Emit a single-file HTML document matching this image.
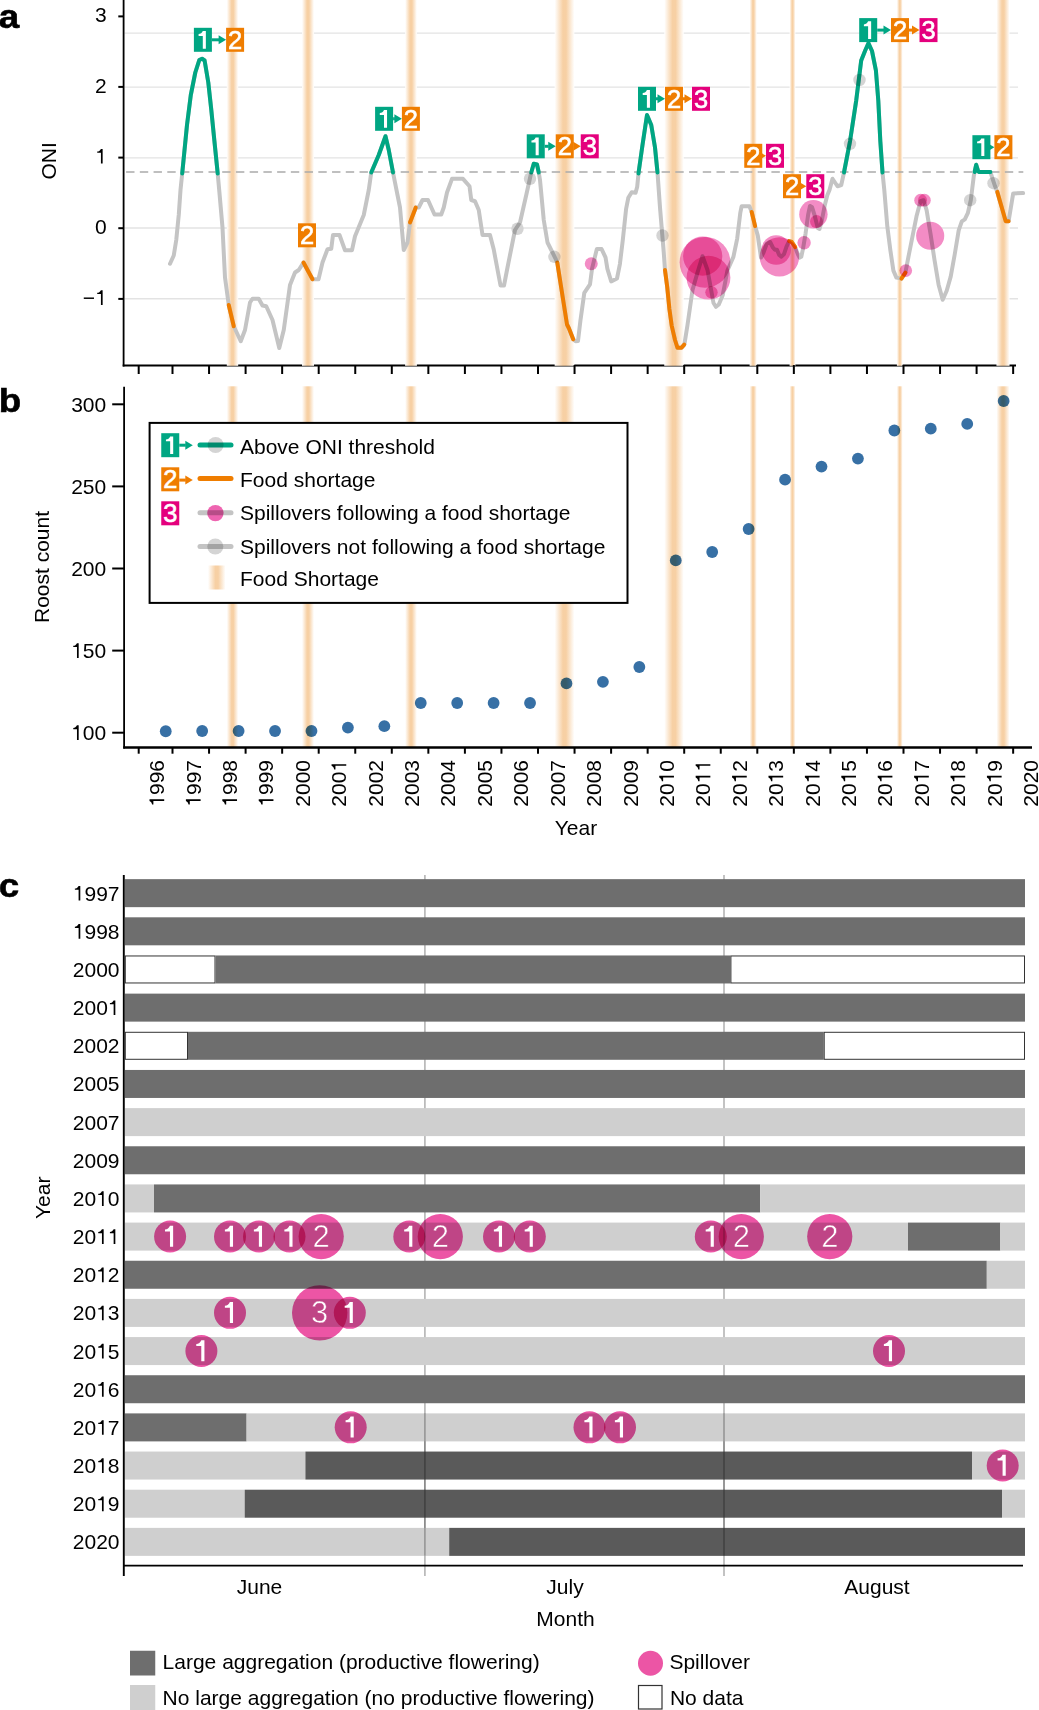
<!DOCTYPE html><html><head><meta charset="utf-8"><style>html,body{margin:0;padding:0;background:#fff;}svg{display:block;}</style></head><body><svg width="1039" height="1710" viewBox="0 0 1039 1710" font-family="Liberation Sans, sans-serif">
<defs><linearGradient id="bg" x1="0" x2="1" y1="0" y2="0"><stop offset="0" stop-color="#fff"/><stop offset="0.42" stop-color="#f7d0a4"/><stop offset="0.58" stop-color="#f7d0a4"/><stop offset="1" stop-color="#fff"/></linearGradient></defs>
<rect width="1039" height="1710" fill="#fff"/>
<line x1="124.5" x2="1018" y1="33.2" y2="33.2" stroke="#e3e3e3" stroke-width="1.3"/>
<line x1="124.5" x2="1018" y1="87.2" y2="87.2" stroke="#e3e3e3" stroke-width="1.3"/>
<line x1="124.5" x2="1018" y1="157.8" y2="157.8" stroke="#e3e3e3" stroke-width="1.3"/>
<line x1="124.5" x2="1018" y1="228" y2="228" stroke="#e3e3e3" stroke-width="1.3"/>
<line x1="124.5" x2="1018" y1="298.75" y2="298.75" stroke="#e3e3e3" stroke-width="1.3"/>
<line x1="122.7" x2="1016" y1="365.4" y2="365.4" stroke="#000" stroke-width="2"/>
<circle cx="591.25" cy="263.75" r="6.5" fill="#fff"/>
<circle cx="702.7" cy="256.2" r="19.6" fill="#fff"/>
<circle cx="705" cy="262.3" r="25.4" fill="#fff"/>
<circle cx="708.5" cy="277.7" r="21.9" fill="#fff"/>
<circle cx="711.5" cy="292.3" r="6.2" fill="#fff"/>
<circle cx="776.2" cy="250" r="14.7" fill="#fff"/>
<circle cx="779.4" cy="256.9" r="19.7" fill="#fff"/>
<circle cx="813.4" cy="214.3" r="14.2" fill="#fff"/>
<circle cx="816.5" cy="221.6" r="6.5" fill="#fff"/>
<circle cx="804.1" cy="242.8" r="6.7" fill="#fff"/>
<circle cx="905.8" cy="270.6" r="6.3" fill="#fff"/>
<circle cx="920.6" cy="200.2" r="6.35" fill="#fff"/>
<circle cx="924.4" cy="200.2" r="6.35" fill="#fff"/>
<circle cx="930.2" cy="235.8" r="14.05" fill="#fff"/>
<circle cx="517.5" cy="228.75" r="6.2" fill="#fff"/>
<circle cx="530" cy="178.75" r="6.2" fill="#fff"/>
<circle cx="554.4" cy="256.8" r="6.2" fill="#fff"/>
<circle cx="662.5" cy="235.5" r="6.2" fill="#fff"/>
<circle cx="850" cy="143.8" r="6.2" fill="#fff"/>
<circle cx="859.5" cy="80" r="6.2" fill="#fff"/>
<circle cx="970.2" cy="200.2" r="6.2" fill="#fff"/>
<circle cx="993.5" cy="183.2" r="6.2" fill="#fff"/>
<rect x="226.80" y="0" width="11.40" height="365.8" fill="url(#bg)"/>
<rect x="302.00" y="0" width="12.00" height="365.8" fill="url(#bg)"/>
<rect x="405.10" y="0" width="11.80" height="365.8" fill="url(#bg)"/>
<rect x="554.65" y="0" width="19.70" height="365.8" fill="url(#bg)"/>
<rect x="664.25" y="0" width="19.50" height="365.8" fill="url(#bg)"/>
<rect x="749.60" y="0" width="7.20" height="365.8" fill="url(#bg)"/>
<rect x="789.60" y="0" width="5.80" height="365.8" fill="url(#bg)"/>
<rect x="896.90" y="0" width="5.80" height="365.8" fill="url(#bg)"/>
<rect x="996.45" y="0" width="13.10" height="365.8" fill="url(#bg)"/>
<line x1="126.1" x2="1023.3" y1="172" y2="172" stroke="#aaa" stroke-width="1.7" stroke-dasharray="8.4 5.33"/>
<polyline points="170.00,263.75 173.75,255.50 176.25,240.00 178.75,215.00 180.50,190.00 182.30,172.50 187.00,125.00 190.80,95.00 195.30,72.50 199.30,60.00 202.00,58.70 204.60,60.50 208.30,82.50 211.30,110.00 214.30,140.00 217.60,172.50 219.20,190.00 222.50,227.50 225.00,277.50 228.75,305.00 233.75,326.25 240.75,341.25 245.00,330.00 250.00,302.50 252.50,298.75 258.75,298.75 262.50,305.50 266.25,306.25 272.50,320.00 279.25,348.00 283.75,330.00 290.00,285.00 295.00,272.50 298.75,270.00 303.50,262.50 312.50,279.20 318.50,279.20 322.50,262.50 327.50,249.25 331.25,248.75 333.00,235.00 339.50,235.00 345.00,250.20 352.00,250.20 355.00,236.25 363.75,215.00 368.75,190.00 371.25,172.50 378.75,155.00 385.50,136.25 388.75,150.00 393.00,172.50 397.50,195.00 400.00,207.50 403.75,250.00 407.50,242.50 410.00,222.50 415.75,207.50 418.75,207.50 422.50,200.00 428.00,200.00 434.50,214.50 441.25,214.50 443.75,207.50 447.00,192.50 452.00,178.85 463.00,178.85 469.50,186.25 471.25,200.00 475.00,201.25 478.75,210.00 482.50,235.00 490.00,235.00 493.75,249.50 500.50,285.50 504.00,285.50 507.50,267.50 512.50,242.50 515.00,230.00 520.00,222.50 526.25,195.00 531.25,172.50 533.75,163.75 537.00,164.50 538.75,172.50 540.00,180.00 543.75,220.00 547.50,242.50 555.40,258.30 557.30,262.60 567.00,324.50 569.00,328.50 573.20,339.30 575.60,341.20 578.00,341.00 580.40,320.80 584.30,292.90 590.00,284.30 592.00,268.90 596.80,249.10 601.60,249.10 605.50,257.30 607.40,268.90 611.20,281.40 617.00,278.50 619.90,264.10 622.80,240.00 626.10,208.90 628.30,197.80 631.70,192.20 635.60,192.80 637.20,186.70 638.60,172.50 642.50,145.00 647.00,115.00 651.25,125.00 655.00,147.50 657.50,172.50 660.00,207.50 663.75,252.50 665.00,270.00 667.20,286.70 669.40,308.90 671.70,325.60 675.00,340.00 677.50,347.80 681.50,347.80 684.40,344.40 687.50,325.00 692.50,290.00 697.50,272.50 702.50,256.25 707.50,270.00 713.50,303.00 716.00,306.80 718.80,304.50 722.80,294.90 727.40,270.50 733.40,256.90 737.20,238.60 740.30,212.80 741.60,206.30 749.40,206.30 751.70,212.00 755.10,226.10 757.80,235.60 761.00,257.60 763.20,253.20 766.70,243.70 770.10,242.00 772.70,247.20 774.90,249.80 777.00,249.80 779.20,255.00 781.40,256.70 784.00,254.10 786.60,246.30 789.20,241.10 791.80,242.00 795.20,247.20 797.80,254.10 799.60,257.60 801.30,256.70 803.00,248.90 805.60,233.30 808.20,214.30 810.00,206.00 812.10,207.30 814.30,214.30 817.80,228.10 819.50,229.00 821.70,221.20 824.70,205.60 827.30,195.20 829.50,190.00 832.50,178.75 837.50,186.25 841.25,185.00 844.00,172.50 850.10,140.80 856.20,100.60 861.20,60.40 865.20,50.50 868.40,43.20 872.00,51.00 875.90,70.40 878.30,100.60 880.30,140.80 882.50,172.50 884.30,190.00 887.30,226.30 890.40,250.50 893.40,270.60 896.40,277.60 901.40,278.60 905.40,272.60 908.50,256.50 912.50,236.40 916.50,216.30 920.50,201.20 923.50,200.20 926.60,210.20 930.60,234.40 934.60,260.50 938.60,284.70 942.70,299.80 946.70,290.70 950.70,276.60 954.70,254.50 958.70,230.40 961.80,221.30 964.80,219.30 967.80,213.20 970.80,200.20 973.80,176.00 974.60,172.00 976.20,164.80 978.30,171.50 979.50,172.10 990.40,172.10 995.00,186.10 997.30,191.90 1001.50,206.50 1005.70,221.20 1008.60,221.20 1013.20,193.40 1023.10,193.10" fill="none" stroke="#c4c4c4" stroke-width="4" stroke-linejoin="round" stroke-linecap="round"/>
<polyline points="182.20,173.47 182.30,172.50 187.00,125.00 190.80,95.00 195.30,72.50 199.30,60.00 202.00,58.70 204.60,60.50 208.30,82.50 211.30,110.00 214.30,140.00 217.60,172.50 217.70,173.59" fill="none" stroke="#00a683" stroke-width="4" stroke-linejoin="round" stroke-linecap="round"/>
<polyline points="371.25,172.50 378.75,155.00 385.50,136.25 388.75,150.00 393.00,172.50" fill="none" stroke="#00a683" stroke-width="4" stroke-linejoin="round" stroke-linecap="round"/>
<polyline points="531.25,172.50 533.75,163.75 537.00,164.50 538.75,172.50" fill="none" stroke="#00a683" stroke-width="4" stroke-linejoin="round" stroke-linecap="round"/>
<polyline points="638.50,173.51 638.60,172.50 642.50,145.00 647.00,115.00 651.25,125.00 655.00,147.50 657.50,172.50" fill="none" stroke="#00a683" stroke-width="4" stroke-linejoin="round" stroke-linecap="round"/>
<polyline points="844.00,172.50 850.10,140.80 856.20,100.60 861.20,60.40 865.20,50.50 868.40,43.20 872.00,51.00 875.90,70.40 878.30,100.60 880.30,140.80 882.50,172.50" fill="none" stroke="#00a683" stroke-width="4" stroke-linejoin="round" stroke-linecap="round"/>
<polyline points="974.60,172.00 976.20,164.80 978.30,171.50 979.50,172.10 990.40,172.10" fill="none" stroke="#00a683" stroke-width="4" stroke-linejoin="round" stroke-linecap="round"/>
<polyline points="228.75,305.00 233.75,326.25" fill="none" stroke="#ef7d00" stroke-width="4" stroke-linejoin="round" stroke-linecap="round"/>
<polyline points="303.50,262.50 312.50,279.20" fill="none" stroke="#ef7d00" stroke-width="4" stroke-linejoin="round" stroke-linecap="round"/>
<polyline points="410.00,222.50 415.75,207.50" fill="none" stroke="#ef7d00" stroke-width="4" stroke-linejoin="round" stroke-linecap="round"/>
<polyline points="557.30,262.60 567.00,324.50 569.00,328.50 573.20,339.30" fill="none" stroke="#ef7d00" stroke-width="4" stroke-linejoin="round" stroke-linecap="round"/>
<polyline points="665.00,270.00 667.20,286.70 669.40,308.90 671.70,325.60 675.00,340.00 677.50,347.80 681.50,347.80 684.20,344.63" fill="none" stroke="#ef7d00" stroke-width="4" stroke-linejoin="round" stroke-linecap="round"/>
<polyline points="751.70,212.00 755.10,226.10" fill="none" stroke="#ef7d00" stroke-width="4" stroke-linejoin="round" stroke-linecap="round"/>
<polyline points="789.20,241.10 791.80,242.00 795.20,247.20" fill="none" stroke="#ef7d00" stroke-width="4" stroke-linejoin="round" stroke-linecap="round"/>
<polyline points="901.40,278.60 905.40,272.60" fill="none" stroke="#ef7d00" stroke-width="4" stroke-linejoin="round" stroke-linecap="round"/>
<polyline points="997.30,191.90 1001.50,206.50 1005.70,221.20 1008.60,221.20" fill="none" stroke="#ef7d00" stroke-width="4" stroke-linejoin="round" stroke-linecap="round"/>
<circle cx="517.5" cy="228.75" r="6.2" fill="#d4d4d4" style="mix-blend-mode:multiply"/>
<circle cx="530" cy="178.75" r="6.2" fill="#d4d4d4" style="mix-blend-mode:multiply"/>
<circle cx="554.4" cy="256.8" r="6.2" fill="#d4d4d4" style="mix-blend-mode:multiply"/>
<circle cx="662.5" cy="235.5" r="6.2" fill="#d4d4d4" style="mix-blend-mode:multiply"/>
<circle cx="850" cy="143.8" r="6.2" fill="#d4d4d4" style="mix-blend-mode:multiply"/>
<circle cx="859.5" cy="80" r="6.2" fill="#d4d4d4" style="mix-blend-mode:multiply"/>
<circle cx="970.2" cy="200.2" r="6.2" fill="#d4d4d4" style="mix-blend-mode:multiply"/>
<circle cx="993.5" cy="183.2" r="6.2" fill="#d4d4d4" style="mix-blend-mode:multiply"/>
<circle cx="591.25" cy="263.75" r="6.5" fill="#f38cc5" style="mix-blend-mode:multiply"/>
<circle cx="702.7" cy="256.2" r="19.6" fill="#f38cc5" style="mix-blend-mode:multiply"/>
<circle cx="705" cy="262.3" r="25.4" fill="#f38cc5" style="mix-blend-mode:multiply"/>
<circle cx="708.5" cy="277.7" r="21.9" fill="#f38cc5" style="mix-blend-mode:multiply"/>
<circle cx="711.5" cy="292.3" r="6.2" fill="#f38cc5" style="mix-blend-mode:multiply"/>
<circle cx="776.2" cy="250" r="14.7" fill="#f38cc5" style="mix-blend-mode:multiply"/>
<circle cx="779.4" cy="256.9" r="19.7" fill="#f38cc5" style="mix-blend-mode:multiply"/>
<circle cx="813.4" cy="214.3" r="14.2" fill="#f38cc5" style="mix-blend-mode:multiply"/>
<circle cx="816.5" cy="221.6" r="6.5" fill="#f38cc5" style="mix-blend-mode:multiply"/>
<circle cx="804.1" cy="242.8" r="6.7" fill="#f38cc5" style="mix-blend-mode:multiply"/>
<circle cx="905.8" cy="270.6" r="6.3" fill="#f38cc5" style="mix-blend-mode:multiply"/>
<circle cx="920.6" cy="200.2" r="6.35" fill="#f38cc5" style="mix-blend-mode:multiply"/>
<circle cx="924.4" cy="200.2" r="6.35" fill="#f38cc5" style="mix-blend-mode:multiply"/>
<circle cx="930.2" cy="235.8" r="14.05" fill="#f38cc5" style="mix-blend-mode:multiply"/>
<line x1="211.9" x2="219.1" y1="39.8" y2="39.8" stroke="#00a683" stroke-width="3"/>
<polygon points="218.60,35.30 226.10,39.80 218.60,44.30" fill="#00a683"/>
<rect x="193.90" y="27.80" width="18" height="24" fill="#00a683"/>
<path d="M198.60,34.10 C200.60,34.00 202.00,32.90 202.80,31.00 L205.85,31.00 L205.85,48.65 L202.80,48.65 L202.80,35.90 L198.60,35.90 Z" fill="#fff"/>
<rect x="226.10" y="27.80" width="18" height="24" fill="#ef7d00"/>
<text x="235.10" y="48.90" font-size="25.5" fill="#fff" stroke="#fff" stroke-width="0.55" text-anchor="middle">2</text>
<rect x="298.00" y="223.30" width="18" height="24" fill="#ef7d00"/>
<text x="307.00" y="244.40" font-size="25.5" fill="#fff" stroke="#fff" stroke-width="0.55" text-anchor="middle">2</text>
<line x1="393.1" x2="394.9" y1="118.8" y2="118.8" stroke="#00a683" stroke-width="3"/>
<polygon points="394.40,114.30 401.90,118.80 394.40,123.30" fill="#00a683"/>
<rect x="375.10" y="106.80" width="18" height="24" fill="#00a683"/>
<path d="M379.80,113.10 C381.80,113.00 383.20,111.90 384.00,110.00 L387.05,110.00 L387.05,127.65 L384.00,127.65 L384.00,114.90 L379.80,114.90 Z" fill="#fff"/>
<rect x="401.90" y="106.80" width="18" height="24" fill="#ef7d00"/>
<text x="410.90" y="127.90" font-size="25.5" fill="#fff" stroke="#fff" stroke-width="0.55" text-anchor="middle">2</text>
<line x1="544.75" x2="548.75" y1="146.3" y2="146.3" stroke="#00a683" stroke-width="3"/>
<polygon points="548.25,141.80 555.75,146.30 548.25,150.80" fill="#00a683"/>
<line x1="573.75" x2="573.75" y1="146.3" y2="146.3" stroke="#ef7d00" stroke-width="3"/>
<polygon points="573.25,141.80 580.75,146.30 573.25,150.80" fill="#ef7d00"/>
<rect x="526.75" y="134.30" width="18" height="24" fill="#00a683"/>
<path d="M531.45,140.60 C533.45,140.50 534.85,139.40 535.65,137.50 L538.70,137.50 L538.70,155.15 L535.65,155.15 L535.65,142.40 L531.45,142.40 Z" fill="#fff"/>
<rect x="555.75" y="134.30" width="18" height="24" fill="#ef7d00"/>
<text x="564.75" y="155.40" font-size="25.5" fill="#fff" stroke="#fff" stroke-width="0.55" text-anchor="middle">2</text>
<rect x="580.75" y="134.30" width="18" height="24" fill="#e4007d"/>
<text x="589.75" y="155.40" font-size="25.5" fill="#fff" stroke="#fff" stroke-width="0.55" text-anchor="middle">3</text>
<line x1="656" x2="658.0" y1="98.8" y2="98.8" stroke="#00a683" stroke-width="3"/>
<polygon points="657.50,94.30 665.00,98.80 657.50,103.30" fill="#00a683"/>
<line x1="683" x2="685.0" y1="98.8" y2="98.8" stroke="#ef7d00" stroke-width="3"/>
<polygon points="684.50,94.30 692.00,98.80 684.50,103.30" fill="#ef7d00"/>
<rect x="638.00" y="86.80" width="18" height="24" fill="#00a683"/>
<path d="M642.70,93.10 C644.70,93.00 646.10,91.90 646.90,90.00 L649.95,90.00 L649.95,107.65 L646.90,107.65 L646.90,94.90 L642.70,94.90 Z" fill="#fff"/>
<rect x="665.00" y="86.80" width="18" height="24" fill="#ef7d00"/>
<text x="674.00" y="107.90" font-size="25.5" fill="#fff" stroke="#fff" stroke-width="0.55" text-anchor="middle">2</text>
<rect x="692.00" y="86.80" width="18" height="24" fill="#e4007d"/>
<text x="701.00" y="107.90" font-size="25.5" fill="#fff" stroke="#fff" stroke-width="0.55" text-anchor="middle">3</text>
<line x1="762.25" x2="759.0" y1="155.8" y2="155.8" stroke="#ef7d00" stroke-width="3"/>
<polygon points="758.50,151.30 766.00,155.80 758.50,160.30" fill="#ef7d00"/>
<rect x="744.25" y="143.80" width="18" height="24" fill="#ef7d00"/>
<text x="753.25" y="164.90" font-size="25.5" fill="#fff" stroke="#fff" stroke-width="0.55" text-anchor="middle">2</text>
<rect x="766.00" y="143.80" width="18" height="24" fill="#e4007d"/>
<text x="775.00" y="164.90" font-size="25.5" fill="#fff" stroke="#fff" stroke-width="0.55" text-anchor="middle">3</text>
<line x1="801" x2="799.3" y1="186.2" y2="186.2" stroke="#ef7d00" stroke-width="3"/>
<polygon points="798.80,181.70 806.30,186.20 798.80,190.70" fill="#ef7d00"/>
<rect x="783.00" y="174.20" width="18" height="24" fill="#ef7d00"/>
<text x="792.00" y="195.30" font-size="25.5" fill="#fff" stroke="#fff" stroke-width="0.55" text-anchor="middle">2</text>
<rect x="806.30" y="174.20" width="18" height="24" fill="#e4007d"/>
<text x="815.30" y="195.30" font-size="25.5" fill="#fff" stroke="#fff" stroke-width="0.55" text-anchor="middle">3</text>
<line x1="877.2" x2="884.0" y1="30.1" y2="30.1" stroke="#00a683" stroke-width="3"/>
<polygon points="883.50,25.60 891.00,30.10 883.50,34.60" fill="#00a683"/>
<line x1="909" x2="912.5" y1="30.1" y2="30.1" stroke="#ef7d00" stroke-width="3"/>
<polygon points="912.00,25.60 919.50,30.10 912.00,34.60" fill="#ef7d00"/>
<rect x="859.20" y="18.10" width="18" height="24" fill="#00a683"/>
<path d="M863.90,24.40 C865.90,24.30 867.30,23.20 868.10,21.30 L871.15,21.30 L871.15,38.95 L868.10,38.95 L868.10,26.20 L863.90,26.20 Z" fill="#fff"/>
<rect x="891.00" y="18.10" width="18" height="24" fill="#ef7d00"/>
<text x="900.00" y="39.20" font-size="25.5" fill="#fff" stroke="#fff" stroke-width="0.55" text-anchor="middle">2</text>
<rect x="919.50" y="18.10" width="18" height="24" fill="#e4007d"/>
<text x="928.50" y="39.20" font-size="25.5" fill="#fff" stroke="#fff" stroke-width="0.55" text-anchor="middle">3</text>
<line x1="990.4" x2="987.4" y1="147.2" y2="147.2" stroke="#00a683" stroke-width="3"/>
<polygon points="986.90,142.70 994.40,147.20 986.90,151.70" fill="#00a683"/>
<rect x="972.40" y="135.20" width="18" height="24" fill="#00a683"/>
<path d="M977.10,141.50 C979.10,141.40 980.50,140.30 981.30,138.40 L984.35,138.40 L984.35,156.05 L981.30,156.05 L981.30,143.30 L977.10,143.30 Z" fill="#fff"/>
<rect x="994.40" y="135.20" width="18" height="24" fill="#ef7d00"/>
<text x="1003.40" y="156.30" font-size="25.5" fill="#fff" stroke="#fff" stroke-width="0.55" text-anchor="middle">2</text>
<line x1="123.6" x2="123.6" y1="0" y2="366.4" stroke="#000" stroke-width="1.8"/>
<line x1="138.70" x2="138.70" y1="365" y2="374" stroke="#000" stroke-width="2"/>
<line x1="172.50" x2="172.50" y1="365" y2="374" stroke="#000" stroke-width="2"/>
<line x1="209.05" x2="209.05" y1="365" y2="374" stroke="#000" stroke-width="2"/>
<line x1="245.60" x2="245.60" y1="365" y2="374" stroke="#000" stroke-width="2"/>
<line x1="282.15" x2="282.15" y1="365" y2="374" stroke="#000" stroke-width="2"/>
<line x1="318.70" x2="318.70" y1="365" y2="374" stroke="#000" stroke-width="2"/>
<line x1="355.25" x2="355.25" y1="365" y2="374" stroke="#000" stroke-width="2"/>
<line x1="391.80" x2="391.80" y1="365" y2="374" stroke="#000" stroke-width="2"/>
<line x1="428.35" x2="428.35" y1="365" y2="374" stroke="#000" stroke-width="2"/>
<line x1="464.90" x2="464.90" y1="365" y2="374" stroke="#000" stroke-width="2"/>
<line x1="501.45" x2="501.45" y1="365" y2="374" stroke="#000" stroke-width="2"/>
<line x1="538.00" x2="538.00" y1="365" y2="374" stroke="#000" stroke-width="2"/>
<line x1="574.55" x2="574.55" y1="365" y2="374" stroke="#000" stroke-width="2"/>
<line x1="611.10" x2="611.10" y1="365" y2="374" stroke="#000" stroke-width="2"/>
<line x1="647.65" x2="647.65" y1="365" y2="374" stroke="#000" stroke-width="2"/>
<line x1="684.20" x2="684.20" y1="365" y2="374" stroke="#000" stroke-width="2"/>
<line x1="720.75" x2="720.75" y1="365" y2="374" stroke="#000" stroke-width="2"/>
<line x1="757.30" x2="757.30" y1="365" y2="374" stroke="#000" stroke-width="2"/>
<line x1="793.85" x2="793.85" y1="365" y2="374" stroke="#000" stroke-width="2"/>
<line x1="830.40" x2="830.40" y1="365" y2="374" stroke="#000" stroke-width="2"/>
<line x1="866.95" x2="866.95" y1="365" y2="374" stroke="#000" stroke-width="2"/>
<line x1="903.50" x2="903.50" y1="365" y2="374" stroke="#000" stroke-width="2"/>
<line x1="940.05" x2="940.05" y1="365" y2="374" stroke="#000" stroke-width="2"/>
<line x1="976.60" x2="976.60" y1="365" y2="374" stroke="#000" stroke-width="2"/>
<line x1="1013.15" x2="1013.15" y1="365" y2="374" stroke="#000" stroke-width="2"/>
<line x1="118.3" x2="123" y1="16.4" y2="16.4" stroke="#000" stroke-width="2"/>
<text x="106.80" y="22.40" font-size="21" text-anchor="end" fill="#000">3</text>
<line x1="118.3" x2="123" y1="86.9" y2="86.9" stroke="#000" stroke-width="2"/>
<text x="106.80" y="92.90" font-size="21" text-anchor="end" fill="#000">2</text>
<line x1="118.3" x2="123" y1="157.6" y2="157.6" stroke="#000" stroke-width="2"/>
<text x="106.80" y="163.60" font-size="21" text-anchor="end" fill="#000"> </text><path d="M102.64,148.90 L102.64,163.60 L100.94,163.60 L100.94,152.78 L97.22,152.78 L97.22,151.53 C98.69,151.38 100.16,150.58 100.94,148.90 Z" fill="#000"/>
<line x1="118.3" x2="123" y1="228.2" y2="228.2" stroke="#000" stroke-width="2"/>
<text x="106.80" y="234.20" font-size="21" text-anchor="end" fill="#000">0</text>
<line x1="118.3" x2="123" y1="298.9" y2="298.9" stroke="#000" stroke-width="2"/>
<text x="106.80" y="304.90" font-size="21" text-anchor="end" fill="#000">− </text><path d="M102.64,290.20 L102.64,304.90 L100.94,304.90 L100.94,294.08 L97.22,294.08 L97.22,292.82 C98.69,292.68 100.16,291.88 100.94,290.20 Z" fill="#000"/>
<text transform="translate(56.0,160.8) rotate(-90)" font-size="21" text-anchor="middle">ONI</text>
<text transform="translate(-1.2,28.1) scale(1.08,1)" font-size="34" font-weight="bold" stroke="#000" stroke-width="0.6">a</text>
<rect x="226.80" y="386.3" width="11.40" height="360.7" fill="url(#bg)"/>
<rect x="302.00" y="386.3" width="12.00" height="360.7" fill="url(#bg)"/>
<rect x="405.10" y="386.3" width="11.80" height="360.7" fill="url(#bg)"/>
<rect x="554.65" y="386.3" width="19.70" height="360.7" fill="url(#bg)"/>
<rect x="664.25" y="386.3" width="19.50" height="360.7" fill="url(#bg)"/>
<rect x="749.60" y="386.3" width="7.20" height="360.7" fill="url(#bg)"/>
<rect x="789.60" y="386.3" width="5.80" height="360.7" fill="url(#bg)"/>
<rect x="896.90" y="386.3" width="5.80" height="360.7" fill="url(#bg)"/>
<rect x="996.45" y="386.3" width="13.10" height="360.7" fill="url(#bg)"/>
<line x1="124.1" x2="124.1" y1="386.7" y2="748.5" stroke="#000" stroke-width="1.8"/>
<line x1="123.2" x2="1032" y1="747.6" y2="747.6" stroke="#000" stroke-width="2.5"/>
<line x1="138.70" x2="138.70" y1="747" y2="753.7" stroke="#000" stroke-width="2"/>
<line x1="172.50" x2="172.50" y1="747" y2="753.7" stroke="#000" stroke-width="2"/>
<line x1="209.05" x2="209.05" y1="747" y2="753.7" stroke="#000" stroke-width="2"/>
<line x1="245.60" x2="245.60" y1="747" y2="753.7" stroke="#000" stroke-width="2"/>
<line x1="282.15" x2="282.15" y1="747" y2="753.7" stroke="#000" stroke-width="2"/>
<line x1="318.70" x2="318.70" y1="747" y2="753.7" stroke="#000" stroke-width="2"/>
<line x1="355.25" x2="355.25" y1="747" y2="753.7" stroke="#000" stroke-width="2"/>
<line x1="391.80" x2="391.80" y1="747" y2="753.7" stroke="#000" stroke-width="2"/>
<line x1="428.35" x2="428.35" y1="747" y2="753.7" stroke="#000" stroke-width="2"/>
<line x1="464.90" x2="464.90" y1="747" y2="753.7" stroke="#000" stroke-width="2"/>
<line x1="501.45" x2="501.45" y1="747" y2="753.7" stroke="#000" stroke-width="2"/>
<line x1="538.00" x2="538.00" y1="747" y2="753.7" stroke="#000" stroke-width="2"/>
<line x1="574.55" x2="574.55" y1="747" y2="753.7" stroke="#000" stroke-width="2"/>
<line x1="611.10" x2="611.10" y1="747" y2="753.7" stroke="#000" stroke-width="2"/>
<line x1="647.65" x2="647.65" y1="747" y2="753.7" stroke="#000" stroke-width="2"/>
<line x1="684.20" x2="684.20" y1="747" y2="753.7" stroke="#000" stroke-width="2"/>
<line x1="720.75" x2="720.75" y1="747" y2="753.7" stroke="#000" stroke-width="2"/>
<line x1="757.30" x2="757.30" y1="747" y2="753.7" stroke="#000" stroke-width="2"/>
<line x1="793.85" x2="793.85" y1="747" y2="753.7" stroke="#000" stroke-width="2"/>
<line x1="830.40" x2="830.40" y1="747" y2="753.7" stroke="#000" stroke-width="2"/>
<line x1="866.95" x2="866.95" y1="747" y2="753.7" stroke="#000" stroke-width="2"/>
<line x1="903.50" x2="903.50" y1="747" y2="753.7" stroke="#000" stroke-width="2"/>
<line x1="940.05" x2="940.05" y1="747" y2="753.7" stroke="#000" stroke-width="2"/>
<line x1="976.60" x2="976.60" y1="747" y2="753.7" stroke="#000" stroke-width="2"/>
<line x1="1013.15" x2="1013.15" y1="747" y2="753.7" stroke="#000" stroke-width="2"/>
<line x1="112.2" x2="124" y1="404.30" y2="404.30" stroke="#000" stroke-width="2"/>
<text x="106.20" y="411.60" font-size="21" text-anchor="end" fill="#000">300</text>
<line x1="112.2" x2="124" y1="486.40" y2="486.40" stroke="#000" stroke-width="2"/>
<text x="106.20" y="493.70" font-size="21" text-anchor="end" fill="#000">250</text>
<line x1="112.2" x2="124" y1="568.50" y2="568.50" stroke="#000" stroke-width="2"/>
<text x="106.20" y="575.80" font-size="21" text-anchor="end" fill="#000">200</text>
<line x1="112.2" x2="124" y1="650.60" y2="650.60" stroke="#000" stroke-width="2"/>
<text x="106.20" y="657.90" font-size="21" text-anchor="end" fill="#000"> 50</text><path d="M78.68,643.20 L78.68,657.90 L76.98,657.90 L76.98,647.08 L73.26,647.08 L73.26,645.82 C74.73,645.68 76.20,644.88 76.98,643.20 Z" fill="#000"/>
<line x1="112.2" x2="124" y1="732.70" y2="732.70" stroke="#000" stroke-width="2"/>
<text x="106.20" y="740.00" font-size="21" text-anchor="end" fill="#000"> 00</text><path d="M78.68,725.30 L78.68,740.00 L76.98,740.00 L76.98,729.18 L73.26,729.18 L73.26,727.92 C74.73,727.78 76.20,726.98 76.98,725.30 Z" fill="#000"/>
<text transform="translate(49.3,567.0) rotate(-90)" font-size="21" text-anchor="middle">Roost count</text>
<text transform="translate(-1.2,411.8) scale(1.08,1)" font-size="34" font-weight="bold" stroke="#000" stroke-width="0.6">b</text>
<g transform="translate(164.20,760) rotate(-90)"><text x="0.00" y="0.00" font-size="21" text-anchor="end" fill="#000"> 996</text><path d="M-39.20,-14.70 L-39.20,0.00 L-40.90,0.00 L-40.90,-10.81 L-44.62,-10.81 L-44.62,-12.07 C-43.15,-12.22 -41.68,-13.02 -40.90,-14.70 Z" fill="#000"/></g>
<g transform="translate(200.61,760) rotate(-90)"><text x="0.00" y="0.00" font-size="21" text-anchor="end" fill="#000"> 997</text><path d="M-39.20,-14.70 L-39.20,0.00 L-40.90,0.00 L-40.90,-10.81 L-44.62,-10.81 L-44.62,-12.07 C-43.15,-12.22 -41.68,-13.02 -40.90,-14.70 Z" fill="#000"/></g>
<g transform="translate(237.02,760) rotate(-90)"><text x="0.00" y="0.00" font-size="21" text-anchor="end" fill="#000"> 998</text><path d="M-39.20,-14.70 L-39.20,0.00 L-40.90,0.00 L-40.90,-10.81 L-44.62,-10.81 L-44.62,-12.07 C-43.15,-12.22 -41.68,-13.02 -40.90,-14.70 Z" fill="#000"/></g>
<g transform="translate(273.43,760) rotate(-90)"><text x="0.00" y="0.00" font-size="21" text-anchor="end" fill="#000"> 999</text><path d="M-39.20,-14.70 L-39.20,0.00 L-40.90,0.00 L-40.90,-10.81 L-44.62,-10.81 L-44.62,-12.07 C-43.15,-12.22 -41.68,-13.02 -40.90,-14.70 Z" fill="#000"/></g>
<g transform="translate(309.84,760) rotate(-90)"><text x="0.00" y="0.00" font-size="21" text-anchor="end" fill="#000">2000</text></g>
<g transform="translate(346.25,760) rotate(-90)"><text x="0.00" y="0.00" font-size="21" text-anchor="end" fill="#000">200 </text><path d="M-4.16,-14.70 L-4.16,0.00 L-5.86,0.00 L-5.86,-10.81 L-9.58,-10.81 L-9.58,-12.07 C-8.11,-12.22 -6.64,-13.02 -5.86,-14.70 Z" fill="#000"/></g>
<g transform="translate(382.66,760) rotate(-90)"><text x="0.00" y="0.00" font-size="21" text-anchor="end" fill="#000">2002</text></g>
<g transform="translate(419.07,760) rotate(-90)"><text x="0.00" y="0.00" font-size="21" text-anchor="end" fill="#000">2003</text></g>
<g transform="translate(455.48,760) rotate(-90)"><text x="0.00" y="0.00" font-size="21" text-anchor="end" fill="#000">2004</text></g>
<g transform="translate(491.89,760) rotate(-90)"><text x="0.00" y="0.00" font-size="21" text-anchor="end" fill="#000">2005</text></g>
<g transform="translate(528.30,760) rotate(-90)"><text x="0.00" y="0.00" font-size="21" text-anchor="end" fill="#000">2006</text></g>
<g transform="translate(564.71,760) rotate(-90)"><text x="0.00" y="0.00" font-size="21" text-anchor="end" fill="#000">2007</text></g>
<g transform="translate(601.12,760) rotate(-90)"><text x="0.00" y="0.00" font-size="21" text-anchor="end" fill="#000">2008</text></g>
<g transform="translate(637.53,760) rotate(-90)"><text x="0.00" y="0.00" font-size="21" text-anchor="end" fill="#000">2009</text></g>
<g transform="translate(673.94,760) rotate(-90)"><text x="0.00" y="0.00" font-size="21" text-anchor="end" fill="#000">20 0</text><path d="M-15.84,-14.70 L-15.84,0.00 L-17.54,0.00 L-17.54,-10.81 L-21.26,-10.81 L-21.26,-12.07 C-19.79,-12.22 -18.32,-13.02 -17.54,-14.70 Z" fill="#000"/></g>
<g transform="translate(710.35,760) rotate(-90)"><text x="0.00" y="0.00" font-size="21" text-anchor="end" fill="#000">20  </text><path d="M-15.84,-14.70 L-15.84,0.00 L-17.54,0.00 L-17.54,-10.81 L-21.26,-10.81 L-21.26,-12.07 C-19.79,-12.22 -18.32,-13.02 -17.54,-14.70 ZM-4.16,-14.70 L-4.16,0.00 L-5.86,0.00 L-5.86,-10.81 L-9.58,-10.81 L-9.58,-12.07 C-8.11,-12.22 -6.64,-13.02 -5.86,-14.70 Z" fill="#000"/></g>
<g transform="translate(746.76,760) rotate(-90)"><text x="0.00" y="0.00" font-size="21" text-anchor="end" fill="#000">20 2</text><path d="M-15.84,-14.70 L-15.84,0.00 L-17.54,0.00 L-17.54,-10.81 L-21.26,-10.81 L-21.26,-12.07 C-19.79,-12.22 -18.32,-13.02 -17.54,-14.70 Z" fill="#000"/></g>
<g transform="translate(783.17,760) rotate(-90)"><text x="0.00" y="0.00" font-size="21" text-anchor="end" fill="#000">20 3</text><path d="M-15.84,-14.70 L-15.84,0.00 L-17.54,0.00 L-17.54,-10.81 L-21.26,-10.81 L-21.26,-12.07 C-19.79,-12.22 -18.32,-13.02 -17.54,-14.70 Z" fill="#000"/></g>
<g transform="translate(819.58,760) rotate(-90)"><text x="0.00" y="0.00" font-size="21" text-anchor="end" fill="#000">20 4</text><path d="M-15.84,-14.70 L-15.84,0.00 L-17.54,0.00 L-17.54,-10.81 L-21.26,-10.81 L-21.26,-12.07 C-19.79,-12.22 -18.32,-13.02 -17.54,-14.70 Z" fill="#000"/></g>
<g transform="translate(855.99,760) rotate(-90)"><text x="0.00" y="0.00" font-size="21" text-anchor="end" fill="#000">20 5</text><path d="M-15.84,-14.70 L-15.84,0.00 L-17.54,0.00 L-17.54,-10.81 L-21.26,-10.81 L-21.26,-12.07 C-19.79,-12.22 -18.32,-13.02 -17.54,-14.70 Z" fill="#000"/></g>
<g transform="translate(892.40,760) rotate(-90)"><text x="0.00" y="0.00" font-size="21" text-anchor="end" fill="#000">20 6</text><path d="M-15.84,-14.70 L-15.84,0.00 L-17.54,0.00 L-17.54,-10.81 L-21.26,-10.81 L-21.26,-12.07 C-19.79,-12.22 -18.32,-13.02 -17.54,-14.70 Z" fill="#000"/></g>
<g transform="translate(928.81,760) rotate(-90)"><text x="0.00" y="0.00" font-size="21" text-anchor="end" fill="#000">20 7</text><path d="M-15.84,-14.70 L-15.84,0.00 L-17.54,0.00 L-17.54,-10.81 L-21.26,-10.81 L-21.26,-12.07 C-19.79,-12.22 -18.32,-13.02 -17.54,-14.70 Z" fill="#000"/></g>
<g transform="translate(965.22,760) rotate(-90)"><text x="0.00" y="0.00" font-size="21" text-anchor="end" fill="#000">20 8</text><path d="M-15.84,-14.70 L-15.84,0.00 L-17.54,0.00 L-17.54,-10.81 L-21.26,-10.81 L-21.26,-12.07 C-19.79,-12.22 -18.32,-13.02 -17.54,-14.70 Z" fill="#000"/></g>
<g transform="translate(1001.63,760) rotate(-90)"><text x="0.00" y="0.00" font-size="21" text-anchor="end" fill="#000">20 9</text><path d="M-15.84,-14.70 L-15.84,0.00 L-17.54,0.00 L-17.54,-10.81 L-21.26,-10.81 L-21.26,-12.07 C-19.79,-12.22 -18.32,-13.02 -17.54,-14.70 Z" fill="#000"/></g>
<g transform="translate(1038.04,760) rotate(-90)"><text x="0.00" y="0.00" font-size="21" text-anchor="end" fill="#000">2020</text></g>
<text x="576" y="835.3" font-size="21" text-anchor="middle">Year</text>
<circle cx="165.75" cy="731.25" r="5.9" fill="#3770a5" style="mix-blend-mode:multiply"/>
<circle cx="202.18" cy="731" r="5.9" fill="#3770a5" style="mix-blend-mode:multiply"/>
<circle cx="238.61" cy="731" r="5.9" fill="#3770a5" style="mix-blend-mode:multiply"/>
<circle cx="275.04" cy="731" r="5.9" fill="#3770a5" style="mix-blend-mode:multiply"/>
<circle cx="311.47" cy="731" r="5.9" fill="#3770a5" style="mix-blend-mode:multiply"/>
<circle cx="347.90" cy="727.6" r="5.9" fill="#3770a5" style="mix-blend-mode:multiply"/>
<circle cx="384.33" cy="726.2" r="5.9" fill="#3770a5" style="mix-blend-mode:multiply"/>
<circle cx="420.76" cy="703" r="5.9" fill="#3770a5" style="mix-blend-mode:multiply"/>
<circle cx="457.19" cy="703" r="5.9" fill="#3770a5" style="mix-blend-mode:multiply"/>
<circle cx="493.62" cy="703" r="5.9" fill="#3770a5" style="mix-blend-mode:multiply"/>
<circle cx="530.05" cy="703" r="5.9" fill="#3770a5" style="mix-blend-mode:multiply"/>
<circle cx="566.48" cy="683.4" r="5.9" fill="#3770a5" style="mix-blend-mode:multiply"/>
<circle cx="602.91" cy="681.8" r="5.9" fill="#3770a5" style="mix-blend-mode:multiply"/>
<circle cx="639.34" cy="667" r="5.9" fill="#3770a5" style="mix-blend-mode:multiply"/>
<circle cx="675.77" cy="560.4" r="5.9" fill="#3770a5" style="mix-blend-mode:multiply"/>
<circle cx="712.20" cy="552" r="5.9" fill="#3770a5" style="mix-blend-mode:multiply"/>
<circle cx="748.63" cy="529" r="5.9" fill="#3770a5" style="mix-blend-mode:multiply"/>
<circle cx="785.06" cy="479.7" r="5.9" fill="#3770a5" style="mix-blend-mode:multiply"/>
<circle cx="821.49" cy="466.6" r="5.9" fill="#3770a5" style="mix-blend-mode:multiply"/>
<circle cx="857.92" cy="458.6" r="5.9" fill="#3770a5" style="mix-blend-mode:multiply"/>
<circle cx="894.35" cy="430.5" r="5.9" fill="#3770a5" style="mix-blend-mode:multiply"/>
<circle cx="930.78" cy="428.7" r="5.9" fill="#3770a5" style="mix-blend-mode:multiply"/>
<circle cx="967.21" cy="423.9" r="5.9" fill="#3770a5" style="mix-blend-mode:multiply"/>
<circle cx="1003.64" cy="401" r="5.9" fill="#3770a5" style="mix-blend-mode:multiply"/>
<rect x="149.6" y="422.9" width="477.9" height="180" fill="#fff" stroke="#000" stroke-width="2"/>
<rect x="161.25" y="433.20" width="18" height="24" fill="#00a683"/>
<path d="M165.95,439.50 C167.95,439.40 169.35,438.30 170.15,436.40 L173.20,436.40 L173.20,454.05 L170.15,454.05 L170.15,441.30 L165.95,441.30 Z" fill="#fff"/>
<line x1="179.25" x2="185.8" y1="445.2" y2="445.2" stroke="#00a683" stroke-width="3"/>
<polygon points="185.30,440.70 192.80,445.20 185.30,449.70" fill="#00a683"/>
<rect x="161.25" y="467.30" width="18" height="24" fill="#ef7d00"/>
<text x="170.25" y="488.40" font-size="25.5" fill="#fff" stroke="#fff" stroke-width="0.55" text-anchor="middle">2</text>
<line x1="179.25" x2="185.8" y1="480.1" y2="480.1" stroke="#ef7d00" stroke-width="3"/>
<polygon points="185.30,475.60 192.80,480.10 185.30,484.60" fill="#ef7d00"/>
<rect x="161.25" y="501.30" width="18" height="24" fill="#e4007d"/>
<text x="170.25" y="522.40" font-size="25.5" fill="#fff" stroke="#fff" stroke-width="0.55" text-anchor="middle">3</text>
<line x1="200" x2="231" y1="445" y2="445" stroke="#00a683" stroke-width="5" stroke-linecap="round"/>
<circle cx="215.6" cy="445" r="8" fill="#d4d4d4" style="mix-blend-mode:multiply"/>
<line x1="200" x2="231" y1="478.5" y2="478.5" stroke="#ef7d00" stroke-width="5" stroke-linecap="round"/>
<line x1="200" x2="231" y1="512.7" y2="512.7" stroke="#c4c4c4" stroke-width="5" stroke-linecap="round"/>
<circle cx="215.4" cy="513.1" r="8.2" fill="#ee64b0" style="mix-blend-mode:multiply"/>
<line x1="200" x2="231" y1="546.5" y2="546.5" stroke="#c4c4c4" stroke-width="5" stroke-linecap="round"/>
<circle cx="215.3" cy="546.5" r="8" fill="#d4d4d4" style="mix-blend-mode:multiply"/>
<rect x="208" y="565.5" width="17.5" height="24" fill="url(#bg)"/>
<text x="240" y="453.6" font-size="21">Above ONI threshold</text>
<text x="240" y="486.9" font-size="21">Food shortage</text>
<text x="240" y="520.2" font-size="21">Spillovers following a food shortage</text>
<text x="240" y="553.6" font-size="21">Spillovers not following a food shortage</text>
<text x="240" y="586.1" font-size="21">Food Shortage</text>
<line x1="424.9" x2="424.9" y1="875" y2="1576" stroke="#b4b4b4" stroke-width="1.6"/>
<line x1="724" x2="724" y1="875" y2="1576" stroke="#b4b4b4" stroke-width="1.6"/>
<rect x="124.80" y="879.15" width="900.20" height="28" fill="#6e6e6e"/>
<text x="119.50" y="900.60" font-size="21" text-anchor="end" fill="#000"> 997</text><path d="M80.30,885.90 L80.30,900.60 L78.60,900.60 L78.60,889.78 L74.88,889.78 L74.88,888.52 C76.35,888.38 77.82,887.58 78.60,885.90 Z" fill="#000"/>
<rect x="124.80" y="917.31" width="900.20" height="28" fill="#6e6e6e"/>
<text x="119.50" y="938.76" font-size="21" text-anchor="end" fill="#000"> 998</text><path d="M80.30,924.06 L80.30,938.76 L78.60,938.76 L78.60,927.94 L74.88,927.94 L74.88,926.68 C76.35,926.54 77.82,925.74 78.60,924.06 Z" fill="#000"/>
<rect x="125.30" y="955.97" width="89.70" height="27" fill="#fff" stroke="#333" stroke-width="1"/>
<rect x="215.50" y="955.47" width="514.90" height="28" fill="#6e6e6e"/>
<rect x="730.90" y="955.97" width="293.60" height="27" fill="#fff" stroke="#333" stroke-width="1"/>
<text x="119.50" y="976.92" font-size="21" text-anchor="end" fill="#000">2000</text>
<rect x="124.80" y="993.63" width="900.20" height="28" fill="#6e6e6e"/>
<text x="119.50" y="1015.08" font-size="21" text-anchor="end" fill="#000">200 </text><path d="M115.34,1000.38 L115.34,1015.08 L113.64,1015.08 L113.64,1004.26 L109.92,1004.26 L109.92,1003.00 C111.39,1002.86 112.86,1002.06 113.64,1000.38 Z" fill="#000"/>
<rect x="125.30" y="1032.29" width="62.20" height="27" fill="#fff" stroke="#333" stroke-width="1"/>
<rect x="188.00" y="1031.79" width="635.70" height="28" fill="#6e6e6e"/>
<rect x="824.20" y="1032.29" width="200.30" height="27" fill="#fff" stroke="#333" stroke-width="1"/>
<text x="119.50" y="1053.24" font-size="21" text-anchor="end" fill="#000">2002</text>
<rect x="124.80" y="1069.95" width="900.20" height="28" fill="#6e6e6e"/>
<text x="119.50" y="1091.40" font-size="21" text-anchor="end" fill="#000">2005</text>
<rect x="124.80" y="1108.11" width="900.20" height="28" fill="#cfcfcf"/>
<text x="119.50" y="1129.56" font-size="21" text-anchor="end" fill="#000">2007</text>
<rect x="124.80" y="1146.27" width="900.20" height="28" fill="#6e6e6e"/>
<text x="119.50" y="1167.72" font-size="21" text-anchor="end" fill="#000">2009</text>
<rect x="124.80" y="1184.43" width="29.20" height="28" fill="#cfcfcf"/>
<rect x="154.00" y="1184.43" width="606.20" height="28" fill="#6e6e6e"/>
<rect x="760.20" y="1184.43" width="264.80" height="28" fill="#cfcfcf"/>
<text x="119.50" y="1205.88" font-size="21" text-anchor="end" fill="#000">20 0</text><path d="M103.66,1191.18 L103.66,1205.88 L101.96,1205.88 L101.96,1195.07 L98.24,1195.07 L98.24,1193.81 C99.71,1193.66 101.18,1192.86 101.96,1191.18 Z" fill="#000"/>
<rect x="124.80" y="1222.59" width="783.20" height="28" fill="#cfcfcf"/>
<rect x="908.00" y="1222.59" width="92.30" height="28" fill="#6e6e6e"/>
<rect x="1000.30" y="1222.59" width="24.70" height="28" fill="#cfcfcf"/>
<text x="119.50" y="1244.04" font-size="21" text-anchor="end" fill="#000">20  </text><path d="M103.66,1229.34 L103.66,1244.04 L101.96,1244.04 L101.96,1233.22 L98.24,1233.22 L98.24,1231.96 C99.71,1231.82 101.18,1231.02 101.96,1229.34 ZM115.34,1229.34 L115.34,1244.04 L113.64,1244.04 L113.64,1233.22 L109.92,1233.22 L109.92,1231.96 C111.39,1231.82 112.86,1231.02 113.64,1229.34 Z" fill="#000"/>
<rect x="124.80" y="1260.75" width="862.00" height="28" fill="#6e6e6e"/>
<rect x="986.80" y="1260.75" width="38.20" height="28" fill="#cfcfcf"/>
<text x="119.50" y="1282.20" font-size="21" text-anchor="end" fill="#000">20 2</text><path d="M103.66,1267.50 L103.66,1282.20 L101.96,1282.20 L101.96,1271.38 L98.24,1271.38 L98.24,1270.12 C99.71,1269.98 101.18,1269.18 101.96,1267.50 Z" fill="#000"/>
<rect x="124.80" y="1298.91" width="900.20" height="28" fill="#cfcfcf"/>
<text x="119.50" y="1320.36" font-size="21" text-anchor="end" fill="#000">20 3</text><path d="M103.66,1305.66 L103.66,1320.36 L101.96,1320.36 L101.96,1309.55 L98.24,1309.55 L98.24,1308.29 C99.71,1308.14 101.18,1307.34 101.96,1305.66 Z" fill="#000"/>
<rect x="124.80" y="1337.07" width="900.20" height="28" fill="#cfcfcf"/>
<text x="119.50" y="1358.52" font-size="21" text-anchor="end" fill="#000">20 5</text><path d="M103.66,1343.82 L103.66,1358.52 L101.96,1358.52 L101.96,1347.70 L98.24,1347.70 L98.24,1346.44 C99.71,1346.30 101.18,1345.50 101.96,1343.82 Z" fill="#000"/>
<rect x="124.80" y="1375.23" width="900.20" height="28" fill="#6e6e6e"/>
<text x="119.50" y="1396.68" font-size="21" text-anchor="end" fill="#000">20 6</text><path d="M103.66,1381.98 L103.66,1396.68 L101.96,1396.68 L101.96,1385.86 L98.24,1385.86 L98.24,1384.60 C99.71,1384.46 101.18,1383.66 101.96,1381.98 Z" fill="#000"/>
<rect x="124.80" y="1413.39" width="121.80" height="28" fill="#6e6e6e"/>
<rect x="246.60" y="1413.39" width="778.40" height="28" fill="#cfcfcf"/>
<text x="119.50" y="1434.84" font-size="21" text-anchor="end" fill="#000">20 7</text><path d="M103.66,1420.14 L103.66,1434.84 L101.96,1434.84 L101.96,1424.03 L98.24,1424.03 L98.24,1422.77 C99.71,1422.62 101.18,1421.82 101.96,1420.14 Z" fill="#000"/>
<rect x="124.80" y="1451.55" width="180.60" height="28" fill="#cfcfcf"/>
<rect x="305.40" y="1451.55" width="666.60" height="28" fill="#5a5a5a"/>
<rect x="972.00" y="1451.55" width="53.00" height="28" fill="#cfcfcf"/>
<text x="119.50" y="1473.00" font-size="21" text-anchor="end" fill="#000">20 8</text><path d="M103.66,1458.30 L103.66,1473.00 L101.96,1473.00 L101.96,1462.18 L98.24,1462.18 L98.24,1460.92 C99.71,1460.78 101.18,1459.98 101.96,1458.30 Z" fill="#000"/>
<rect x="124.80" y="1489.71" width="119.90" height="28" fill="#cfcfcf"/>
<rect x="244.70" y="1489.71" width="757.30" height="28" fill="#5a5a5a"/>
<rect x="1002.00" y="1489.71" width="23.00" height="28" fill="#cfcfcf"/>
<text x="119.50" y="1511.16" font-size="21" text-anchor="end" fill="#000">20 9</text><path d="M103.66,1496.46 L103.66,1511.16 L101.96,1511.16 L101.96,1500.34 L98.24,1500.34 L98.24,1499.08 C99.71,1498.94 101.18,1498.14 101.96,1496.46 Z" fill="#000"/>
<rect x="124.80" y="1527.87" width="324.40" height="28" fill="#cfcfcf"/>
<rect x="449.20" y="1527.87" width="575.80" height="28" fill="#5a5a5a"/>
<text x="119.50" y="1549.32" font-size="21" text-anchor="end" fill="#000">2020</text>
<line x1="424.9" x2="424.9" y1="1413.3400000000001" y2="1555.82" stroke="#000" stroke-opacity="0.28" stroke-width="1.6"/>
<line x1="424.9" x2="424.9" y1="1222.54" y2="1250.54" stroke="#000" stroke-opacity="0.2" stroke-width="1.6"/>
<line x1="724" x2="724" y1="1413.3400000000001" y2="1555.82" stroke="#000" stroke-opacity="0.28" stroke-width="1.6"/>
<line x1="724" x2="724" y1="1222.54" y2="1250.54" stroke="#000" stroke-opacity="0.2" stroke-width="1.6"/>
<circle cx="170.1" cy="1236.54" r="16" fill="#ec55a5" style="mix-blend-mode:multiply"/>
<circle cx="230" cy="1236.54" r="16" fill="#ec55a5" style="mix-blend-mode:multiply"/>
<circle cx="259" cy="1236.54" r="16" fill="#ec55a5" style="mix-blend-mode:multiply"/>
<circle cx="289.5" cy="1236.54" r="16" fill="#ec55a5" style="mix-blend-mode:multiply"/>
<circle cx="321.2" cy="1236.54" r="22.6" fill="#ec55a5" style="mix-blend-mode:multiply"/>
<circle cx="409.3" cy="1236.54" r="16" fill="#ec55a5" style="mix-blend-mode:multiply"/>
<circle cx="440.3" cy="1236.54" r="22.6" fill="#ec55a5" style="mix-blend-mode:multiply"/>
<circle cx="499" cy="1236.54" r="16" fill="#ec55a5" style="mix-blend-mode:multiply"/>
<circle cx="529.8" cy="1236.54" r="16" fill="#ec55a5" style="mix-blend-mode:multiply"/>
<circle cx="710.8" cy="1236.54" r="16" fill="#ec55a5" style="mix-blend-mode:multiply"/>
<circle cx="741.3" cy="1236.54" r="22.6" fill="#ec55a5" style="mix-blend-mode:multiply"/>
<circle cx="829.75" cy="1236.54" r="22.6" fill="#ec55a5" style="mix-blend-mode:multiply"/>
<circle cx="230" cy="1312.86" r="16" fill="#ec55a5" style="mix-blend-mode:multiply"/>
<circle cx="319.7" cy="1312.86" r="27.7" fill="#ec55a5" style="mix-blend-mode:multiply"/>
<circle cx="349.8" cy="1312.86" r="16" fill="#ec55a5" style="mix-blend-mode:multiply"/>
<circle cx="201.4" cy="1351.02" r="16" fill="#ec55a5" style="mix-blend-mode:multiply"/>
<circle cx="889" cy="1351.02" r="16" fill="#ec55a5" style="mix-blend-mode:multiply"/>
<circle cx="350.7" cy="1427.34" r="16" fill="#ec55a5" style="mix-blend-mode:multiply"/>
<circle cx="589.5" cy="1427.34" r="16" fill="#ec55a5" style="mix-blend-mode:multiply"/>
<circle cx="620" cy="1427.34" r="16" fill="#ec55a5" style="mix-blend-mode:multiply"/>
<circle cx="1002.7" cy="1465.50" r="16" fill="#ec55a5" style="mix-blend-mode:multiply"/>
<path d="M164.98,1229.41 C167.36,1229.29 169.03,1227.98 169.98,1225.72 L173.13,1225.72 L173.13,1246.72 L169.98,1246.72 L169.98,1231.55 L164.98,1231.55 Z" fill="#fff"/>
<path d="M224.88,1229.41 C227.26,1229.29 228.93,1227.98 229.88,1225.72 L233.03,1225.72 L233.03,1246.72 L229.88,1246.72 L229.88,1231.55 L224.88,1231.55 Z" fill="#fff"/>
<path d="M253.88,1229.41 C256.26,1229.29 257.93,1227.98 258.88,1225.72 L262.03,1225.72 L262.03,1246.72 L258.88,1246.72 L258.88,1231.55 L253.88,1231.55 Z" fill="#fff"/>
<path d="M284.38,1229.41 C286.76,1229.29 288.43,1227.98 289.38,1225.72 L292.53,1225.72 L292.53,1246.72 L289.38,1246.72 L289.38,1231.55 L284.38,1231.55 Z" fill="#fff"/>
<text x="321.2" y="1247.14" font-size="31" fill="#fff" stroke="#c04586" stroke-width="0.6" text-anchor="middle">2</text>
<path d="M404.18,1229.41 C406.56,1229.29 408.23,1227.98 409.18,1225.72 L412.33,1225.72 L412.33,1246.72 L409.18,1246.72 L409.18,1231.55 L404.18,1231.55 Z" fill="#fff"/>
<text x="440.3" y="1247.14" font-size="31" fill="#fff" stroke="#c04586" stroke-width="0.6" text-anchor="middle">2</text>
<path d="M493.88,1229.41 C496.26,1229.29 497.93,1227.98 498.88,1225.72 L502.03,1225.72 L502.03,1246.72 L498.88,1246.72 L498.88,1231.55 L493.88,1231.55 Z" fill="#fff"/>
<path d="M524.68,1229.41 C527.06,1229.29 528.73,1227.98 529.68,1225.72 L532.83,1225.72 L532.83,1246.72 L529.68,1246.72 L529.68,1231.55 L524.68,1231.55 Z" fill="#fff"/>
<path d="M705.68,1229.41 C708.06,1229.29 709.73,1227.98 710.68,1225.72 L713.83,1225.72 L713.83,1246.72 L710.68,1246.72 L710.68,1231.55 L705.68,1231.55 Z" fill="#fff"/>
<text x="741.3" y="1247.14" font-size="31" fill="#fff" stroke="#c04586" stroke-width="0.6" text-anchor="middle">2</text>
<text x="829.75" y="1247.14" font-size="31" fill="#fff" stroke="#c04586" stroke-width="0.6" text-anchor="middle">2</text>
<path d="M224.88,1305.73 C227.26,1305.61 228.93,1304.30 229.88,1302.04 L233.03,1302.04 L233.03,1323.04 L229.88,1323.04 L229.88,1307.87 L224.88,1307.87 Z" fill="#fff"/>
<text x="319.7" y="1323.46" font-size="31" fill="#fff" stroke="#c04586" stroke-width="0.6" text-anchor="middle">3</text>
<path d="M344.68,1305.73 C347.06,1305.61 348.73,1304.30 349.68,1302.04 L352.83,1302.04 L352.83,1323.04 L349.68,1323.04 L349.68,1307.87 L344.68,1307.87 Z" fill="#fff"/>
<path d="M196.28,1343.89 C198.66,1343.77 200.33,1342.46 201.28,1340.20 L204.43,1340.20 L204.43,1361.20 L201.28,1361.20 L201.28,1346.03 L196.28,1346.03 Z" fill="#fff"/>
<path d="M883.88,1343.89 C886.26,1343.77 887.93,1342.46 888.88,1340.20 L892.03,1340.20 L892.03,1361.20 L888.88,1361.20 L888.88,1346.03 L883.88,1346.03 Z" fill="#fff"/>
<path d="M345.58,1420.21 C347.96,1420.09 349.63,1418.78 350.58,1416.52 L353.73,1416.52 L353.73,1437.52 L350.58,1437.52 L350.58,1422.35 L345.58,1422.35 Z" fill="#fff"/>
<path d="M584.38,1420.21 C586.76,1420.09 588.43,1418.78 589.38,1416.52 L592.53,1416.52 L592.53,1437.52 L589.38,1437.52 L589.38,1422.35 L584.38,1422.35 Z" fill="#fff"/>
<path d="M614.88,1420.21 C617.26,1420.09 618.93,1418.78 619.88,1416.52 L623.03,1416.52 L623.03,1437.52 L619.88,1437.52 L619.88,1422.35 L614.88,1422.35 Z" fill="#fff"/>
<path d="M997.58,1458.37 C999.96,1458.25 1001.63,1456.94 1002.58,1454.68 L1005.73,1454.68 L1005.73,1475.68 L1002.58,1475.68 L1002.58,1460.51 L997.58,1460.51 Z" fill="#fff"/>
<line x1="123.8" x2="123.8" y1="875" y2="1576" stroke="#000" stroke-width="1.9"/>
<line x1="123" x2="1023" y1="1565.6" y2="1565.6" stroke="#000" stroke-width="1.9"/>
<text transform="translate(-1.2,896.5) scale(1.08,1)" font-size="34" font-weight="bold" stroke="#000" stroke-width="0.6">c</text>
<text transform="translate(49.7,1197.8) rotate(-90)" font-size="21" text-anchor="middle">Year</text>
<text x="259.5" y="1593.9" font-size="21" text-anchor="middle">June</text>
<text x="565" y="1593.9" font-size="21" text-anchor="middle">July</text>
<text x="877" y="1593.9" font-size="21" text-anchor="middle">August</text>
<text x="565.5" y="1625.8" font-size="21" text-anchor="middle">Month</text>
<rect x="130" y="1650.75" width="25.25" height="24.75" fill="#6e6e6e"/>
<rect x="130" y="1685" width="25.25" height="25" fill="#cfcfcf"/>
<circle cx="650.5" cy="1663.25" r="12.5" fill="#ec55a5"/>
<rect x="638.5" y="1685.5" width="23.5" height="23.5" fill="#fff" stroke="#333" stroke-width="1.2"/>
<text x="162.6" y="1669.2" font-size="21">Large aggregation (productive flowering)</text>
<text x="162.6" y="1705.1" font-size="21">No large aggregation (no productive flowering)</text>
<text x="669.4" y="1669" font-size="21">Spillover</text>
<text x="669.9" y="1705" font-size="21">No data</text>
</svg></body></html>
